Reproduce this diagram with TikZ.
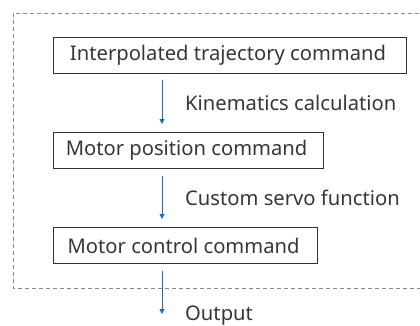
\documentclass[tikz,border=0pt]{standalone}
\usepackage{fontspec}
\setmainfont{Noto Sans}
\usetikzlibrary{arrows.meta}
\definecolor{txt}{HTML}{363636}
\definecolor{arr}{HTML}{1F6FB8}
\definecolor{dashgray}{HTML}{8A8A8A}
\begin{document}
\begin{tikzpicture}[x=1pt,y=-1pt,
  box/.style={draw=txt!90!black,line width=1.1pt,rectangle,inner sep=0pt,anchor=north west},
  lbl/.style={text=txt,anchor=west,inner sep=0pt,font=\fontsize{20.2}{22}\selectfont},
  flow/.style={draw=arr,line width=1pt,-{Triangle[length=5pt,width=5pt]}}]
\useasboundingbox (0,0) rectangle (420,325);
\draw[draw=dashgray,line width=1pt,dash pattern=on 4pt off 3pt] (440,13) -- (13,13) -- (13,288) -- (440,288);
\node[box,minimum width=353pt,minimum height=36pt] (b1) at (53,37) {};
\node[lbl,anchor=center] (t1) at ([xshift=-2pt]b1.center) {Interpolated trajectory command};
\node[box,minimum width=270pt,minimum height=36pt] (b2) at (53,132) {};
\node[lbl,anchor=center] (t2) at ([xshift=-2pt]b2.center) {Motor position command};
\node[box,minimum width=264pt,minimum height=36pt] (b3) at (53,227) {};
\node[lbl,anchor=center] (t3) at ([xshift=-2pt]b3.center) {Motor control command};
\coordinate (a1s) at (162,80); \coordinate (a1e) at (162,124);
\coordinate (a2s) at (162,176); \coordinate (a2e) at (162,219);
\coordinate (a3s) at (162,271); \coordinate (a3e) at (162,314);
\draw[flow] (a1s) -- (a1e);
\draw[flow] (a2s) -- (a2e);
\draw[flow] (a3s) -- (a3e);
\node[lbl] (l1) at (185,103) {Kinematics calculation};
\node[lbl] (l2) at (185,198) {Custom servo function};
\node[lbl] (l3) at (185,316) {Output};
\end{tikzpicture}
\end{document}
